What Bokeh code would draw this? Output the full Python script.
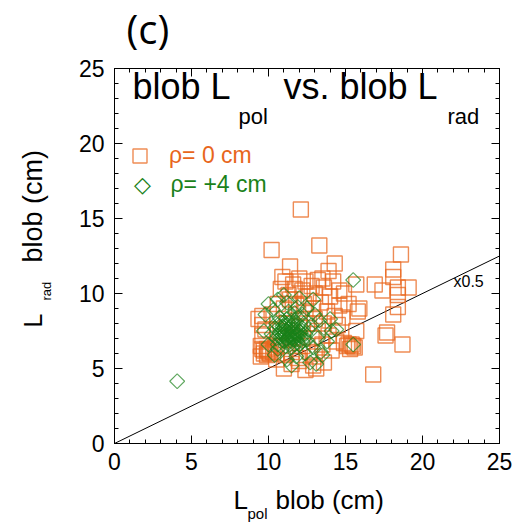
import math
from bokeh.plotting import figure
from bokeh.models import (Range1d, LinearAxis, SingleIntervalTicker,
                          Legend, LegendItem, ColumnDataSource)
from bokeh.core.properties import value
from bokeh.embed import file_html
from bokeh.resources import INLINE

# ---------------- data ----------------
sq_x = [12.1, 10.2, 13.3, 14.3, 11.4, 10.9, 11.1, 11.6, 12.0, 12.4, 12.8, 13.2, 13.6, 13.9,
        14.2, 14.6, 13.0, 11.7, 10.8, 11.3, 12.6, 14.0, 14.9, 15.7, 15.2,
        18.6, 18.1, 18.1, 16.9, 17.4, 18.4, 19.1, 18.4, 18.4, 18.1, 17.7, 17.6, 18.7, 16.8,
        15.9, 15.8, 15.7, 15.4, 15.1, 15.3, 15.6, 14.9,
        9.35, 9.6, 9.6, 9.5, 9.7, 10.0, 10.3, 9.9, 9.5, 10.4, 9.8, 10.2, 9.6,
        10.6, 11.0, 11.8, 12.3, 12.9, 13.4, 13.8, 14.3, 13.0, 12.5, 13.6, 14.5, 14.8, 13.2,
        13.9, 14.4, 12.8, 12.2, 13.5, 14.1, 11.5, 12.7, 13.0, 11.9, 11.1, 10.8, 11.0, 12.4,
        13.6, 12.0, 12.9, 11.5, 10.6, 11.2, 12.0, 11.6, 12.4, 14.6, 13.1, 10.5, 11.4, 12.2,
        13.5, 10.1, 9.9, 9.7, 10.0, 9.6, 15.5, 15.2]
sq_y = [15.6, 12.9, 13.2, 12.0, 11.8, 11.1, 10.8, 10.6, 11.0, 10.8, 10.5, 10.9, 10.4, 11.5,
        10.8, 10.2, 10.0, 10.3, 10.3, 9.9, 9.8, 9.8, 10.0, 10.6, 9.3,
        12.6, 11.6, 11.1, 10.6, 10.2, 10.4, 10.4, 9.9, 9.1, 8.6, 7.4, 7.2, 6.6, 4.6,
        9.0, 8.8, 7.5, 6.6, 6.5, 6.3, 6.4, 6.7,
        8.3, 7.9, 7.2, 6.5, 6.2, 6.2, 6.1, 5.9, 5.8, 6.4, 7.6, 8.6, 8.5,
        9.3, 9.0, 9.2, 9.3, 9.0, 9.4, 8.8, 8.5, 8.3, 8.0, 8.0, 7.9, 8.4, 7.5,
        7.2, 6.8, 7.0, 6.5, 6.6, 6.2, 6.1, 6.1, 5.8, 5.7, 5.9, 6.5, 5.0, 4.9,
        5.4, 5.5, 5.2, 5.3, 7.5, 8.0, 7.8, 7.0, 8.7, 9.2, 5.0, 5.6, 9.6, 10.2,
        11.0, 6.0, 6.3, 6.0, 6.1, 6.3, 6.5, 6.6]

dm_x = [10.5, 10.7, 10.9, 11.1, 11.3, 11.5, 11.7, 11.9, 12.1, 10.6, 10.8, 11.0, 11.2, 11.4,
        11.6, 11.8, 12.0, 12.2, 12.4, 10.4, 11.3, 11.5, 11.1, 11.7, 12.3, 10.9, 11.4, 10.7,
        11.9, 12.6, 11.0, 11.6, 10.8, 12.0, 11.2, 11.8, 10.5, 12.5, 11.3, 11.7, 10.2, 12.8,
        11.5, 12.2, 10.6,
        11.0, 11.2, 11.4, 11.6, 11.8, 11.1, 11.3, 11.5, 11.7, 11.9, 10.9, 12.1, 11.4, 11.6,
        11.2, 11.8, 11.0, 12.0, 10.8, 11.5, 11.3, 11.7, 12.2, 10.7, 11.1, 11.9, 11.4, 12.3,
        10.6, 11.6,
        9.8, 10.0, 10.6, 11.2, 11.9, 12.5, 13.0, 13.3, 13.6, 13.2, 12.9, 12.4, 11.8, 11.2,
        10.4, 10.0, 9.7, 13.8, 14.1, 14.4, 12.7, 11.5, 13.4, 12.0, 11.0, 14.0, 13.5, 15.5,
        15.5, 4.07, 12.9, 10.3, 13.1]
dm_y = [7.0, 7.4, 7.8, 7.2, 7.6, 7.0, 7.4, 7.8, 7.1, 6.6, 8.1, 6.8, 8.3, 6.6,
        8.0, 6.9, 7.5, 6.8, 7.3, 7.7, 7.1, 7.9, 6.5, 6.6, 8.0, 6.9, 8.5, 8.4,
        8.4, 7.6, 7.5, 7.3, 7.1, 6.6, 6.9, 7.2, 8.0, 6.9, 8.8, 8.7, 7.3, 7.9,
        6.4, 8.6, 6.3,
        7.3, 7.5, 7.2, 7.6, 7.3, 7.9, 6.8, 7.5, 7.0, 7.6, 7.2, 7.4, 7.8, 6.9,
        7.0, 8.1, 7.7, 7.2, 7.5, 8.2, 7.4, 7.1, 7.7, 7.8, 8.0, 6.7, 7.1, 7.0,
        7.2, 7.6,
        8.6, 9.3, 9.6, 9.4, 9.1, 9.0, 8.6, 8.2, 7.7, 7.0, 6.4, 6.0, 5.8, 5.6,
        5.9, 6.6, 7.5, 6.8, 7.5, 7.6, 5.4, 5.2, 6.1, 9.7, 9.9, 8.3, 5.9, 10.9,
        6.6, 4.15, 9.6, 8.9, 5.3]

fit_slope = 0.5
fit_x = [0, 25]
fit_y = [fit_slope * v for v in fit_x]

series_labels = ["ρ= 0 cm", "ρ= +4 cm"]

ORANGE = "#E8661C"
GREEN = "#1A821A"
FONT = "Liberation Sans"

# ---------------- figure ----------------
W, H = 527, 526
L_B, R_B, T_B, B_B = 114, 28, 68, 83
p = figure(width=W, height=H, output_backend="svg", toolbar_location=None,
           x_range=Range1d(0, 25), y_range=Range1d(0, 25),
           min_border_left=L_B, min_border_right=R_B, min_border_top=T_B,
           min_border_bottom=B_B, x_axis_type=None, y_axis_type=None)
p.grid.visible = False
p.background_fill_color = "white"
p.border_fill_color = "white"
p.outline_line_color = "black"
p.outline_line_width = 1


def make_axis(show_labels):
    ax = LinearAxis(ticker=SingleIntervalTicker(interval=5, num_minor_ticks=5))
    ax.major_tick_in = 8
    ax.major_tick_out = 0
    ax.minor_tick_in = 4
    ax.minor_tick_out = 0
    ax.axis_line_color = "black"
    ax.major_tick_line_color = "black"
    ax.minor_tick_line_color = "black"
    if show_labels:
        ax.major_label_text_font = FONT
        ax.major_label_text_font_size = "23px"
        ax.major_label_text_color = "black"
    else:
        ax.major_label_text_font_size = "1px"
        ax.major_label_text_color = None
        ax.major_label_standoff = 0
    return ax


xb = make_axis(True); xb.major_label_standoff = 9
yl = make_axis(True); yl.major_label_standoff = 10
p.add_layout(xb, "below")
p.add_layout(yl, "left")
p.add_layout(make_axis(False), "above")
p.add_layout(make_axis(False), "right")

# fit line
p.line(fit_x, fit_y, line_color="black", line_width=1)

src_sq = ColumnDataSource(dict(x=sq_x, y=sq_y))
src_dm = ColumnDataSource(dict(x=dm_x, y=dm_y))
r_sq = p.scatter("x", "y", source=src_sq, marker="square", size=15,
                 fill_color=None, line_color=ORANGE, line_alpha=0.75, line_width=1.4)
r_dm = p.scatter("x", "y", source=src_dm, marker="square", angle=math.pi / 4, size=10.5,
                 fill_color=None, line_color=GREEN, line_alpha=0.7, line_width=1.1)

leg1 = Legend(items=[LegendItem(label=series_labels[0], renderers=[r_sq])],
              location=(8, 270), glyph_width=35, glyph_height=35, padding=0, margin=0,
              spacing=0, label_standoff=12, border_line_color=None,
              background_fill_alpha=0, label_text_font=FONT,
              label_text_font_size="23px", label_text_color=ORANGE)
p.add_layout(leg1)

# text placement: reference pixel positions (top-left origin) -> data coords
SX = (W - L_B - R_B) / 25.0
SY = (H - T_B - B_B) / 25.0
K = 0.4  # empirical baseline correction (em)


def txt(px, py, s, size_px, color="black", angle=0.0, font=FONT, align="left"):
    if angle:
        px = px - K * size_px
    else:
        py = py - K * size_px
    p.text(x=[(px - L_B) / SX], y=[(H - B_B - py) / SY], text=[s],
           text_font=value(font), text_font_size=value(f"{size_px}px"), text_color=color,
           angle=angle, text_align=align, text_baseline="alphabetic", level="overlay")


txt(142, 193, "◇", 22, color=GREEN, font="DejaVu Sans", align="center")
txt(170, 193, series_labels[1], 23, color=GREEN)

# panel tag
txt(126, 44, "(c)", 40, font="Open Sans")
# title
txt(132, 100, "blob L", 36)
txt(238, 125, "pol", 22)
txt(283, 100, "vs. blob L", 36)
txt(447, 125, "rad", 22)
# x0.5
txt(453, 287, "x0.5", 16)
# x axis label
txt(233, 510, "L", 26)
txt(247, 519, "pol", 15)
txt(275, 510, "blob (cm)", 26)
# y axis label
txt(42, 327, "L", 25, angle=math.pi / 2)
txt(51, 300, "rad", 13, angle=math.pi / 2)
txt(43, 262, "blob (cm)", 27, angle=math.pi / 2)

open("out.html", "w").write(file_html(p, INLINE))
